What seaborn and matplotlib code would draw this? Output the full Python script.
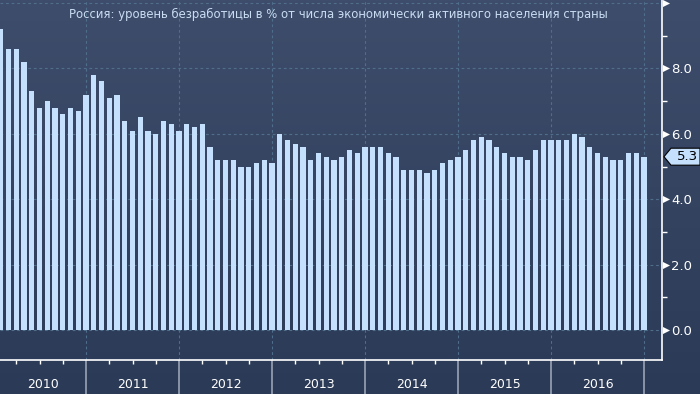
import numpy as np
import pandas as pd
import matplotlib
matplotlib.use("Agg")
import matplotlib.pyplot as plt
import matplotlib.transforms as mtrans
from matplotlib.patches import Polygon
import seaborn as sns

# ---- data: Russia unemployment rate, monthly Jan 2010 - Dec 2016 ----
rate_2010 = [9.2, 8.6, 8.6, 8.2, 7.3, 6.8, 7.0, 6.8, 6.6, 6.8, 6.7, 7.2]
rate_2011 = [7.8, 7.6, 7.1, 7.2, 6.4, 6.1, 6.5, 6.1, 6.0, 6.4, 6.3, 6.1]
rate_2012 = [6.3, 6.2, 6.3, 5.6, 5.2, 5.2, 5.2, 5.0, 5.0, 5.1, 5.2, 5.1]
rate_2013 = [6.0, 5.8, 5.7, 5.6, 5.2, 5.4, 5.3, 5.2, 5.3, 5.5, 5.4, 5.6]
rate_2014 = [5.6, 5.6, 5.4, 5.3, 4.9, 4.9, 4.9, 4.8, 4.9, 5.1, 5.2, 5.3]
rate_2015 = [5.5, 5.8, 5.9, 5.8, 5.6, 5.4, 5.3, 5.3, 5.2, 5.5, 5.8, 5.8]
rate_2016 = [5.8, 5.8, 6.0, 5.9, 5.6, 5.4, 5.3, 5.2, 5.2, 5.4, 5.4, 5.3]
years = ["2010", "2011", "2012", "2013", "2014", "2015", "2016"]
y_ticks = [0, 2, 4, 6, 8, 10]
y_tick_labels = ["0.0", "2.0", "4.0", "6.0", "8.0", ""]
title = "Россия: уровень безработицы в % от числа экономически активного населения страны"

rates = rate_2010 + rate_2011 + rate_2012 + rate_2013 + rate_2014 + rate_2015 + rate_2016
df = pd.DataFrame({"month": np.arange(len(rates)), "rate": rates})
last_value = rates[-1]

W, H = 700, 394
fig = plt.figure(figsize=(7, 3.94), dpi=100)

# background gradient
bg = fig.add_axes([0, 0, 1, 1], zorder=-10)
grad = np.linspace(0, 1, 256).reshape(-1, 1)
top_c = np.array([0x3e, 0x4d, 0x6b]) / 255
bot_c = np.array([0x2b, 0x3a, 0x56]) / 255
img = top_c[None, None, :] * (1 - grad[:, :, None]) + bot_c[None, None, :] * grad[:, :, None]
bg.imshow(img, aspect="auto", extent=[0, 1, 0, 1], origin="upper")
bg.axis("off")

# main axes: plot area x 0..662 px, y 0..360 px
ax_right = 662
ax_bottom = 360
ax = fig.add_axes([0, 1 - ax_bottom / H, ax_right / W, ax_bottom / H])
ax.set_facecolor("none")

sns.barplot(data=df, x="month", y="rate", color="#c4e0fc", width=0.65,
            saturation=1, ax=ax, zorder=3)

px_per_month = 7.75
x0 = -0.75 / px_per_month
x1 = (ax_right - 0.75) / px_per_month
ax.set_xlim(x0, x1)
unit_px = 32.7
ymin = -(ax_bottom - 330) / unit_px
ymax = 330 / unit_px
ax.set_ylim(ymin, ymax)
ax.set_xlabel("")
ax.set_ylabel("")

grid_c = "#4f6e8c"
for yv in y_ticks:
    ax.axhline(yv, color=grid_c, lw=0.8, ls=(0, (2.5, 2.5)), zorder=1)
year_bounds = [11 + 12 * k for k in range(len(years))]
for xv in year_bounds:
    ax.axvline(xv, color=grid_c, lw=0.8, ls=(0, (2.5, 2.5)), zorder=1)

# spines
for s in ["left", "top"]:
    ax.spines[s].set_visible(False)
ax.spines["bottom"].set_color("white")
ax.spines["right"].set_color("white")
ax.spines["bottom"].set_linewidth(1.2)
ax.spines["right"].set_linewidth(1.2)

# x ticks: quarter minor ticks, year boundaries major ticks
quarter_ticks = [q for q in range(2, len(rates), 3) if (q - 11) % 12 != 0]
ax.set_xticks(year_bounds)
ax.set_xticklabels([])
ax.set_xticks(quarter_ticks, minor=True)
ax.tick_params(axis="x", which="major", length=25, width=1.2, color="#9aa3b3", direction="out")
ax.tick_params(axis="x", which="minor", length=3, width=1, color="white", direction="out")

# year labels
trans_x = mtrans.blended_transform_factory(ax.transData, fig.transFigure)
for i, yr in enumerate(years):
    left = 11 + 12 * (i - 1)
    right = 11 + 12 * i
    left = max(left, x0)
    ax.text((left + right) / 2, 1 - 385 / H, yr, transform=trans_x, ha="center",
            va="center", color="white", fontsize=9)

# y axis on right
ax.yaxis.tick_right()
ax.set_yticks(y_ticks)
ax.set_yticklabels(y_tick_labels)
ax.set_yticks([1, 3, 5, 7, 9], minor=True)
ax.tick_params(axis="y", which="major", length=0, pad=6.5, labelcolor="white", labelsize=9.5)
ax.tick_params(axis="y", which="minor", length=3.5, width=1, color="white", direction="out")
trans_y = mtrans.blended_transform_factory(ax.transAxes, ax.transData)
ax.scatter([1 + 4 / ax_right] * len(y_ticks), y_ticks, marker=">", s=26, color="white",
           transform=trans_y, clip_on=False, zorder=5, linewidths=0)

# last value tag
yp = 330 - last_value * unit_px
pts = [(664, yp), (671, yp - 8.5), (700, yp - 8.5), (700, yp + 8.5), (671, yp + 8.5)]
pts = [(x / W, 1 - y / H) for x, y in pts]
fig.add_artist(Polygon(pts, closed=True, transform=fig.transFigure, facecolor="#c4e0fc",
                       edgecolor="black", lw=0.8))
fig.text(687 / W, 1 - yp / H, f"{last_value:.1f}", ha="center", va="center",
         color="black", fontsize=9.5)

# title
fig.text(338 / W, 1 - 14 / H, title, ha="center", va="center", color="#c8dcf2", fontsize=8.4)

fig.savefig("out.png", dpi=100)
